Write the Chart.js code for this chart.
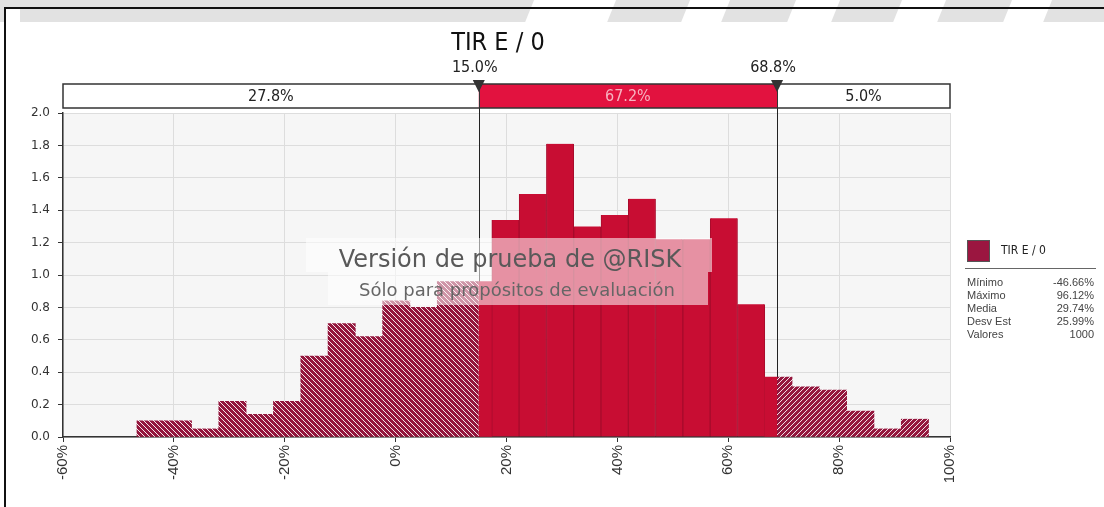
<!DOCTYPE html>
<html>
<head>
<meta charset="utf-8">
<script src="https://cdn.jsdelivr.net/npm/chart.js@4.4.1/dist/chart.umd.min.js"></script>
<style>
  html, body { margin: 0; padding: 0; background: #fff; }
  #page { position: relative; width: 1104px; height: 507px; overflow: hidden; background: #fff; }
  #topStrip { position: absolute; left: 0; top: 0; width: 1104px; height: 22px; background: #e2e2e2; overflow: hidden; }
  .gap { position: absolute; top: -5px; height: 40px; background: #fff; transform: skewX(-22deg); }
  #frame { position: absolute; left: 4px; top: 7px; width: 1110px; height: 510px; border-top: 2px solid #111; border-left: 2px solid #111; }
  #cornerWhite { position: absolute; left: 6px; top: 9px; width: 14px; height: 13px; background: #fff; }
  #grafico { position: absolute; left: 0; top: 0; }
</style>
</head>
<body>
<div id="page">
  <div id="topStrip">
    <div class="gap" style="left:528px;width:82px"></div>
    <div class="gap" style="left:684px;width:40px"></div>
    <div class="gap" style="left:790px;width:44px"></div>
    <div class="gap" style="left:896px;width:44px"></div>
    <div class="gap" style="left:1006px;width:40px"></div>
  </div>
  <div id="cornerWhite"></div>
  <div id="frame"></div>
  <canvas id="grafico" width="1104" height="507"></canvas>
</div>
<script>
// ====== DADOS ======
const titulo = 'TIR E / 0';
// centros das classes do histograma (%)
const centrosClasse = [-44.20, -39.27, -34.35, -29.43, -24.50, -19.58, -14.65, -9.73, -4.81, 0.12,
  5.04, 9.97, 14.89, 19.81, 24.74, 29.66, 34.59, 39.51, 44.43, 49.36,
  54.28, 59.21, 64.13, 69.05, 73.98, 78.90, 83.83, 88.75, 93.67];
// densidade
const densidades = [0.10, 0.10, 0.05, 0.22, 0.14, 0.22, 0.50, 0.70, 0.62, 0.84,
  0.80, 0.96, 0.96, 1.34, 1.50, 1.81, 1.30, 1.37, 1.47, 1.22,
  1.22, 1.35, 0.82, 0.37, 0.31, 0.29, 0.16, 0.05, 0.11];
const limites = [15.0, 68.8];
const limitesTexto = ['15.0%', '68.8%'];
const faixas = ['27.8%', '67.2%', '5.0%'];
const estatNomes = ['Mínimo', 'Máximo', 'Media', 'Desv Est', 'Valores'];
const estatValores = ['-46.66%', '96.12%', '29.74%', '25.99%', '1000'];
const marcaDagua = ['Versión de prueba de @RISK', 'Sólo para propósitos de evaluación'];

// ====== CORES ======
const corSolida = '#c80d33';
const corHachura = '#94163d';
const corFaixa = '#e2123f';
const corLegenda = '#9b1640';

// ====== PREENCHIMENTO (hachurado / sólido) ======
let cachePadrao = { chave: '', padrao: null };
function preenchimento(context) {
  const chart = context.chart;
  const area = chart.chartArea;
  if (!area) return corSolida;
  const x = chart.scales.x;
  const xa = x.getPixelForValue(limites[0]);
  const xb = x.getPixelForValue(limites[1]);
  const W = chart.width, H = chart.height;
  const chave = `${W}x${H}-${xa}-${xb}`;
  if (cachePadrao.chave === chave) return cachePadrao.padrao;

  const off = document.createElement('canvas');
  off.width = W; off.height = H;
  const c = off.getContext('2d');
  c.fillStyle = corHachura;
  c.fillRect(0, 0, xa, H);
  c.fillRect(xb, 0, W - xb, H);
  c.fillStyle = corSolida;
  c.fillRect(xa, 0, xb - xa, H);

  c.strokeStyle = 'rgba(255,255,255,0.9)';
  c.lineWidth = 1;
  c.save();
  c.beginPath(); c.rect(0, 0, xa, H); c.clip();
  c.beginPath();
  for (let s = -H; s < xa; s += 5) { c.moveTo(s, 0); c.lineTo(s + H, H); }
  c.stroke();
  c.restore();

  c.save();
  c.beginPath(); c.rect(xb, 0, W - xb, H); c.clip();
  c.beginPath();
  for (let s = xb; s < W + H; s += 5) { c.moveTo(s, 0); c.lineTo(s - H, H); }
  c.stroke();
  c.restore();

  cachePadrao = { chave, padrao: chart.ctx.createPattern(off, 'no-repeat') };
  return cachePadrao.padrao;
}

function barraSolida(i) {
  const v = centrosClasse[i];
  return v - 2.5 > limites[0] && v + 2.5 < limites[1];
}

// ====== DECORAÇÃO ======
const decoracao = {
  id: 'decoracao',
  beforeDraw(chart) {
    const { ctx, chartArea: a } = chart;
    ctx.save();
    ctx.fillStyle = '#f6f6f6';
    ctx.fillRect(a.left, a.top, a.right - a.left, a.bottom - a.top);
    ctx.restore();
  },
  beforeDatasetsDraw(chart) {
    const { ctx, chartArea: a, scales } = chart;
    ctx.save();
    ctx.strokeStyle = '#222';
    ctx.lineWidth = 1;
    limites.forEach(v => {
      const px = Math.round(scales.x.getPixelForValue(v)) + 0.5;
      ctx.beginPath();
      ctx.moveTo(px, a.top - 5);
      ctx.lineTo(px, a.bottom);
      ctx.stroke();
    });
    ctx.restore();
  },
  afterDatasetsDraw(chart) {
    const { ctx } = chart;
    ctx.save();
    ctx.fillStyle = 'rgba(255,255,255,0.55)';
    ctx.fillRect(306, 238, 406, 34);
    ctx.fillRect(328, 272, 380, 33);
    ctx.textAlign = 'center';
    ctx.textBaseline = 'alphabetic';
    ctx.fillStyle = '#595959';
    ctx.font = '24px "DejaVu Sans"';
    ctx.fillText(marcaDagua[0], 510, 267);
    ctx.fillStyle = '#666';
    ctx.font = '18px "DejaVu Sans"';
    ctx.fillText(marcaDagua[1], 517, 296);
    ctx.restore();
  },
  afterDraw(chart) {
    const { ctx, chartArea: a, scales } = chart;
    const x = scales.x;
    const xMin = x.getPixelForValue(x.min);
    const xMax = x.getPixelForValue(x.max);
    const xa = x.getPixelForValue(limites[0]);
    const xb = x.getPixelForValue(limites[1]);
    const topo = a.top - 29, base = a.top - 5;
    ctx.save();

    // título
    ctx.fillStyle = '#111';
    ctx.textAlign = 'center';
    ctx.textBaseline = 'middle';
    ctx.font = '25px "Liberation Sans Narrow", "DejaVu Sans Condensed", sans-serif';
    ctx.fillText(titulo, 498, 43);

    // faixa de percentuais
    ctx.fillStyle = '#fff';
    ctx.fillRect(xMin, topo, xMax - xMin, base - topo);
    ctx.fillStyle = corFaixa;
    ctx.fillRect(xa, topo, xb - xa, base - topo);
    ctx.strokeStyle = '#333';
    ctx.lineWidth = 1.5;
    ctx.strokeRect(xMin, topo, xMax - xMin, base - topo);
    ctx.lineWidth = 1;
    [xa, xb].forEach(px => {
      ctx.beginPath();
      ctx.moveTo(Math.round(px) + 0.5, topo);
      ctx.lineTo(Math.round(px) + 0.5, base);
      ctx.stroke();
    });

    ctx.font = '16px "Liberation Sans Narrow", "DejaVu Sans Condensed", sans-serif';
    const centros = [(xMin + xa) / 2, (xa + xb) / 2, (xb + xMax) / 2];
    faixas.forEach((t, i) => {
      ctx.fillStyle = i === 1 ? '#f7b3c0' : '#222';
      ctx.fillText(t, centros[i], (topo + base) / 2 + 1);
    });

    // marcadores
    ctx.fillStyle = '#333';
    [xa, xb].forEach((px, i) => {
      ctx.beginPath();
      ctx.moveTo(px - 6, topo - 4);
      ctx.lineTo(px + 6, topo - 4);
      ctx.lineTo(px, topo + 8);
      ctx.closePath();
      ctx.fill();
      ctx.fillStyle = '#222';
      ctx.fillText(limitesTexto[i], px - 4, 68);
      ctx.fillStyle = '#333';
    });

    // legenda
    ctx.fillStyle = corLegenda;
    ctx.fillRect(967, 240, 23, 22);
    ctx.strokeStyle = '#555';
    ctx.strokeRect(967.5, 240.5, 22, 21);
    ctx.fillStyle = '#222';
    ctx.textAlign = 'left';
    ctx.font = '12px "Liberation Sans Narrow", "DejaVu Sans Condensed", sans-serif';
    ctx.fillText(titulo, 1001, 251);
    ctx.strokeStyle = '#666';
    ctx.beginPath();
    ctx.moveTo(965, 268.5);
    ctx.lineTo(1096, 268.5);
    ctx.stroke();

    ctx.font = '11px "Liberation Sans", sans-serif';
    ctx.fillStyle = '#444';
    estatNomes.forEach((n, i) => {
      const y = 283 + i * 13;
      ctx.textAlign = 'left';
      ctx.fillText(n, 967, y);
      ctx.textAlign = 'right';
      ctx.fillText(estatValores[i], 1094, y);
    });
    ctx.restore();
  }
};

// ====== GRÁFICO ======
const ctx = document.getElementById('grafico').getContext('2d');
const pontos = centrosClasse.map((c, i) => ({ x: c, y: densidades[i] }));

new Chart(ctx, {
  type: 'bar',
  data: {
    datasets: [{
      label: titulo,
      data: pontos,
      backgroundColor: preenchimento,
      borderColor: '#a70a2b',
      borderWidth: c => barraSolida(c.dataIndex) ? { left: 1, right: 1, top: 0, bottom: 0 } : 0,
      barPercentage: 1,
      categoryPercentage: 1,
    }],
  },
  options: {
    responsive: false,
    animation: false,
    layout: { padding: { left: 0, right: 154, top: 113, bottom: 0 } },
    plugins: {
      legend: { display: false },
      tooltip: { enabled: false },
    },
    scales: {
      x: {
        type: 'linear',
        min: -60,
        max: 100,
        offset: false,
        afterFit: s => { s.height = 70; },
        grid: { offset: false, color: '#dddddd', tickColor: '#333', tickLength: 5 },
        border: { color: '#333', width: 1.5 },
        ticks: {
          stepSize: 20,
          autoSkip: false,
          minRotation: 90,
          maxRotation: 90,
          color: '#333',
          padding: 3,
          font: { family: 'Liberation Sans', size: 15 },
          callback: v => v + '%',
        },
      },
      y: {
        min: 0,
        max: 2,
        afterFit: s => { s.width = 63; },
        grid: { color: '#dddddd', tickColor: '#333', tickLength: 5 },
        border: { color: '#333', width: 1.5 },
        ticks: {
          stepSize: 0.2,
          color: '#333',
          padding: 8,
          font: { family: 'DejaVu Sans', size: 12 },
          callback: v => v.toFixed(1),
        },
      },
    },
  },
  plugins: [decoracao],
});
</script>
</body>
</html>
